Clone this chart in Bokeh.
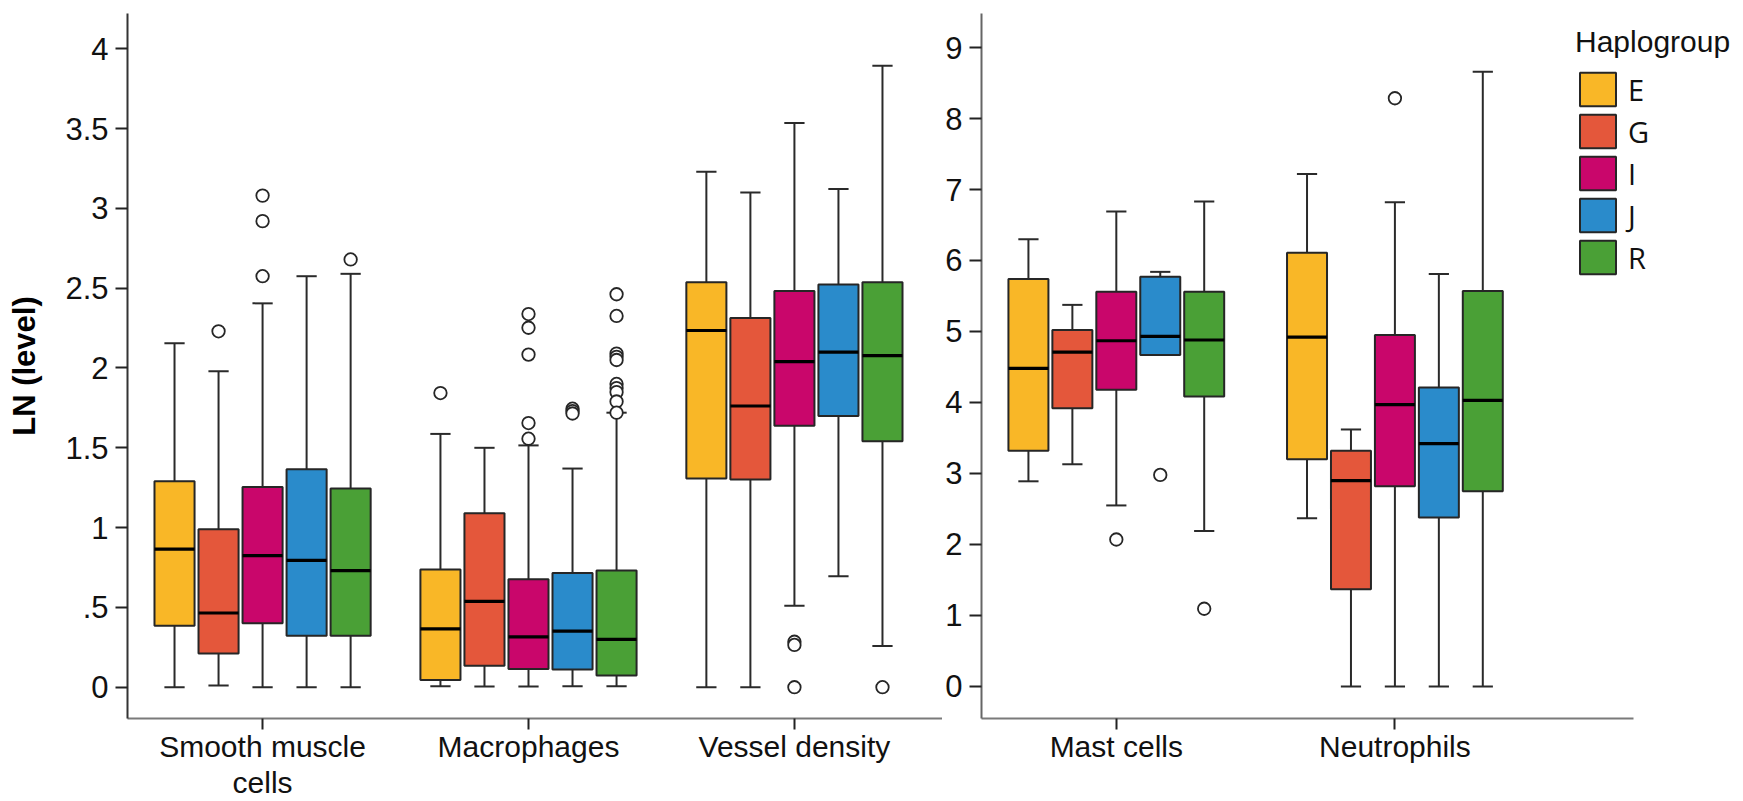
from bokeh.plotting import figure
from bokeh.layouts import row
from bokeh.models import ColumnDataSource, FixedTicker, Legend, LegendItem, Range1d
from bokeh.embed import file_html
from bokeh.resources import INLINE

# ---------------- data ----------------
haplogroups = ["E", "G", "I", "J", "R"]
colors = ["#F9B727", "#E4573B", "#C9066B", "#2A8BCB", "#4AA036"]

left_categories = ["Smooth muscle cells", "Macrophages", "Vessel density"]
right_categories = ["Mast cells", "Neutrophils"]
category_labels = {
    "Smooth muscle cells": "Smooth muscle\ncells",
    "Macrophages": "Macrophages",
    "Vessel density": "Vessel density",
    "Mast cells": "Mast cells",
    "Neutrophils": "Neutrophils",
}

# values per category, in haplogroup order E, G, I, J, R
lower_whisker = {
    "Smooth muscle cells": [0.00, 0.01, 0.00, 0.00, 0.00],
    "Macrophages": [0.006, 0.004, 0.004, 0.006, 0.006],
    "Vessel density": [0.00, 0.00, 0.51, 0.695, 0.258],
    "Mast cells": [2.89, 3.13, 2.55, 4.67, 2.19],
    "Neutrophils": [2.37, 0.00, 0.00, 0.00, 0.00],
}
q1 = {
    "Smooth muscle cells": [0.385, 0.212, 0.40, 0.322, 0.322],
    "Macrophages": [0.045, 0.134, 0.114, 0.111, 0.073],
    "Vessel density": [1.307, 1.302, 1.638, 1.70, 1.541],
    "Mast cells": [3.32, 3.92, 4.18, 4.67, 4.085],
    "Neutrophils": [3.20, 1.37, 2.82, 2.38, 2.75],
}
median = {
    "Smooth muscle cells": [0.865, 0.465, 0.825, 0.795, 0.73],
    "Macrophages": [0.366, 0.538, 0.315, 0.351, 0.30],
    "Vessel density": [2.235, 1.762, 2.04, 2.10, 2.078],
    "Mast cells": [4.48, 4.71, 4.87, 4.93, 4.88],
    "Neutrophils": [4.92, 2.90, 3.97, 3.42, 4.03],
}
q3 = {
    "Smooth muscle cells": [1.29, 0.99, 1.255, 1.365, 1.245],
    "Macrophages": [0.737, 1.09, 0.676, 0.716, 0.731],
    "Vessel density": [2.537, 2.314, 2.483, 2.523, 2.537],
    "Mast cells": [5.74, 5.02, 5.56, 5.77, 5.56],
    "Neutrophils": [6.11, 3.32, 4.95, 4.21, 5.57],
}
upper_whisker = {
    "Smooth muscle cells": [2.155, 1.98, 2.405, 2.575, 2.59],
    "Macrophages": [1.587, 1.50, 1.515, 1.37, 1.72],
    "Vessel density": [3.23, 3.10, 3.535, 3.122, 3.893],
    "Mast cells": [6.30, 5.375, 6.69, 5.84, 6.83],
    "Neutrophils": [7.22, 3.62, 6.82, 5.81, 8.66],
}
outliers = {
    "Smooth muscle cells": [[], [2.23], [3.08, 2.92, 2.575], [], [2.68]],
    "Macrophages": [[1.843], [], [2.338, 2.252, 2.084, 1.655, 1.557],
                    [1.745, 1.73, 1.715],
                    [2.462, 2.326, 2.09, 2.07, 2.05, 1.90, 1.874, 1.849, 1.79, 1.72]],
    "Vessel density": [[], [], [0.285, 0.265, 0.0], [], [0.0]],
    "Mast cells": [[], [], [2.07], [2.98], [1.095]],
    "Neutrophils": [[], [], [8.285], [], []],
}

left_y_ticks = [0, 0.5, 1, 1.5, 2, 2.5, 3, 3.5, 4]
left_y_labels = ["0", ".5", "1", "1.5", "2", "2.5", "3", "3.5", "4"]
right_y_ticks = [0, 1, 2, 3, 4, 5, 6, 7, 8, 9]

# ---------------- styling constants ----------------
BOX_STEP = 1.0
BOX_WIDTH = 0.91
CAP_HALF = 0.23
FONT = "Liberation Sans"
TXT = "31px"
XTXT = "30px"


def build_panel(p, categories, pitch):
    centers = []
    whisk = dict(x0=[], x1=[], y0=[], y1=[])
    caps = dict(x0=[], x1=[], y0=[], y1=[])
    meds = dict(x0=[], x1=[], y0=[], y1=[])
    outs = dict(x=[], y=[])
    boxes = {h: dict(x=[], bottom=[], top=[]) for h in haplogroups}
    for g, cat in enumerate(categories):
        c = g * pitch
        centers.append(c)
        for h, hap in enumerate(haplogroups):
            x = c + (h - 2) * BOX_STEP
            lo, a, m, b, hi = (lower_whisker[cat][h], q1[cat][h], median[cat][h],
                               q3[cat][h], upper_whisker[cat][h])
            boxes[hap]["x"].append(x)
            boxes[hap]["bottom"].append(a)
            boxes[hap]["top"].append(b)
            for y_from, y_to in ((b, hi), (a, lo)):
                if y_to != y_from:
                    whisk["x0"].append(x); whisk["x1"].append(x)
                    whisk["y0"].append(y_from); whisk["y1"].append(y_to)
                    caps["x0"].append(x - CAP_HALF); caps["x1"].append(x + CAP_HALF)
                    caps["y0"].append(y_to); caps["y1"].append(y_to)
            meds["x0"].append(x - BOX_WIDTH / 2); meds["x1"].append(x + BOX_WIDTH / 2)
            meds["y0"].append(m); meds["y1"].append(m)
            for o in outliers[cat][h]:
                outs["x"].append(x); outs["y"].append(o)

    p.segment("x0", "y0", "x1", "y1", source=ColumnDataSource(whisk),
              line_color="#2a2a2a", line_width=2)
    p.segment("x0", "y0", "x1", "y1", source=ColumnDataSource(caps),
              line_color="#2a2a2a", line_width=2)
    renderers = []
    for hap, col in zip(haplogroups, colors):
        r = p.vbar(x="x", bottom="bottom", top="top", width=BOX_WIDTH,
                   source=ColumnDataSource(boxes[hap]), fill_color=col,
                   line_color="#262626", line_width=2)
        renderers.append(r)
    p.segment("x0", "y0", "x1", "y1", source=ColumnDataSource(meds),
              line_color="#000000", line_width=3.2)
    p.scatter("x", "y", source=ColumnDataSource(outs), marker="circle", size=12.5,
              fill_color="white", line_color="#262626", line_width=1.8)

    xa = p.xaxis[0]
    xa.ticker = FixedTicker(ticks=centers)
    xa.major_label_overrides = {c: category_labels[cat] for c, cat in zip(centers, categories)}
    xa.major_tick_out = 11
    xa.major_tick_in = 0
    xa.minor_tick_out = 0
    xa.minor_tick_in = 0
    xa.axis_line_color = "#7a7a7a"
    xa.axis_line_width = 2
    xa.major_tick_line_color = "#222222"
    xa.major_tick_line_width = 2
    xa.major_label_text_font = FONT
    xa.major_label_text_font_size = XTXT
    xa.major_label_text_color = "#111111"
    xa.major_label_text_line_height = 1.1
    xa.major_label_standoff = 0
    return renderers


def style_common(p):
    p.xgrid.visible = False
    p.ygrid.visible = False
    p.outline_line_color = None
    p.background_fill_color = "white"
    p.border_fill_color = "white"


def style_yaxis(ya, ticks, line_color):
    ya.ticker = FixedTicker(ticks=ticks)
    ya.major_tick_out = 12
    ya.major_tick_in = 0
    ya.minor_tick_out = 0
    ya.minor_tick_in = 0
    ya.axis_line_color = line_color
    ya.axis_line_width = 2
    ya.major_tick_line_color = "#222222"
    ya.major_tick_line_width = 2
    ya.major_label_text_font = FONT
    ya.major_label_text_font_size = TXT
    ya.major_label_text_color = "#111111"
    ya.major_label_standoff = 7


FIG_H = 801
TOP = 13
BOX_PX = 44.0        # screen pixels per box step
X0 = -3.068          # left edge of both frames, in box steps from the first group

left_frame_w = 814.5
left = figure(width=942, height=FIG_H,
              x_range=Range1d(X0, X0 + left_frame_w / BOX_PX),
              y_range=Range1d(-0.196, 4.221),
              output_backend="svg", toolbar_location=None,
              min_border_left=127, min_border_right=0, min_border_top=TOP,
              min_border_bottom=70)
style_common(left)
build_panel(left, left_categories, 6.04)
ya = left.yaxis[0]
style_yaxis(ya, left_y_ticks, "#333333")
ya.major_label_overrides = {float(t): s for t, s in zip(left_y_ticks, left_y_labels)}
ya.axis_label = "LN (level)"
ya.axis_label_text_font = FONT
ya.axis_label_text_font_size = TXT
ya.axis_label_text_font_style = "bold"
ya.axis_label_text_color = "#000000"
ya.axis_label_standoff = 20

right_frame_w = 763
right = figure(width=801, height=FIG_H,
               x_range=Range1d(X0, X0 + right_frame_w / BOX_PX),
               y_range=Range1d(-0.451, 9.479),
               output_backend="svg", toolbar_location=None,
               min_border_left=0, min_border_right=0, min_border_top=TOP,
               min_border_bottom=70)
style_common(right)
rend = build_panel(right, right_categories, 6.34)
right.xaxis[0].bounds = (X0, X0 + 653 / BOX_PX)
style_yaxis(right.yaxis[0], right_y_ticks, "#666666")

legend = Legend(
    items=[LegendItem(label=h, renderers=[r]) for h, r in zip(haplogroups, rend)],
    location=(594, 440),
    title="Haplogroup",
    title_text_font=FONT, title_text_font_size="30px", title_text_font_style="normal",
    title_text_color="#111111", title_standoff=9,
    label_text_font="Open Sans", label_text_font_size="29px", label_text_color="#111111",
    glyph_width=45, glyph_height=42, label_height=42, label_standoff=8,
    spacing=0, padding=0, margin=0,
    border_line_alpha=0, background_fill_alpha=0,
)
right.add_layout(legend)

p = row(left, right, spacing=0)
open("out.html", "w").write(file_html(p, INLINE))
